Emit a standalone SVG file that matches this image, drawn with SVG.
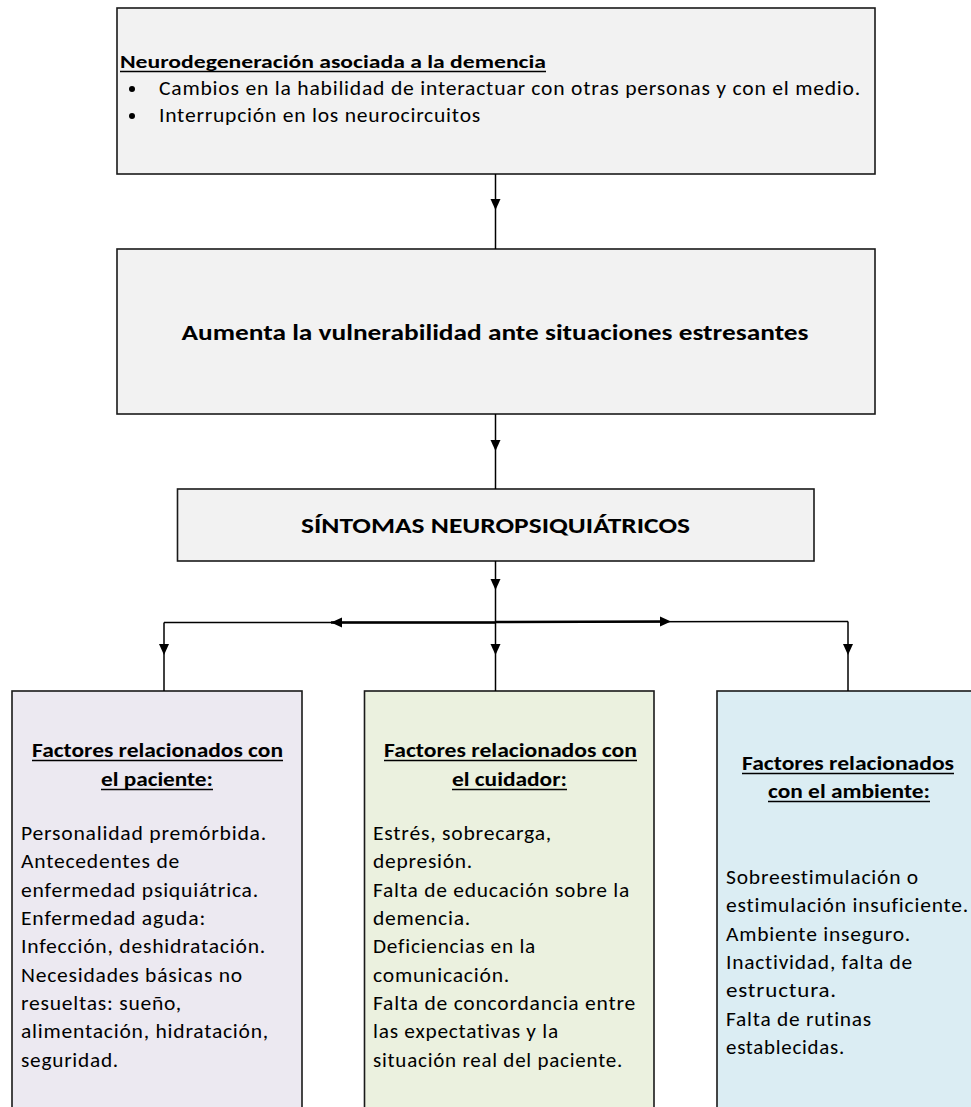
<svg xmlns="http://www.w3.org/2000/svg" width="971" height="1107" viewBox="0 0 971 1107">
<style>
.box{stroke:#1a1a1a;stroke-width:1.6}
.gray{fill:#f2f2f2}
.t{font-family:Carlito,Lato,"Liberation Sans",sans-serif;fill:#000}
.b{font-weight:bold}
.bd{font-size:19.5px;letter-spacing:0.7px}
.conn line{stroke:#000;stroke-width:1.5}
.ul{stroke:#000;stroke-width:1.3}
</style>
<rect width="971" height="1107" fill="#fff"/>
<g id="node-neurodegeneracion">
<rect class="box gray" x="117" y="8" width="758" height="166"/>
<text class="t b" x="120" y="68" font-size="19" textLength="426" lengthAdjust="spacingAndGlyphs">Neurodegeneración asociada a la demencia</text>
<line class="ul" x1="120" y1="71.5" x2="546" y2="71.5"/>
<circle cx="132" cy="89" r="3"/>
<text class="t bd" x="159" y="95" textLength="702" lengthAdjust="spacingAndGlyphs">Cambios en la habilidad de interactuar con otras personas y con el medio.</text>
<circle cx="132" cy="116" r="3"/>
<text class="t bd" x="159" y="122" textLength="322" lengthAdjust="spacingAndGlyphs">Interrupción en los neurocircuitos</text>
</g>
<g id="node-vulnerabilidad">
<rect class="box gray" x="117" y="249" width="758" height="165"/>
<text class="t b" x="495" y="340" font-size="23" text-anchor="middle" textLength="627" lengthAdjust="spacingAndGlyphs">Aumenta la vulnerabilidad ante situaciones estresantes</text>
</g>
<g id="node-sintomas">
<rect class="box gray" x="177.5" y="489" width="636.5" height="72"/>
<text class="t b" x="495.5" y="533" font-size="23" text-anchor="middle" textLength="389" lengthAdjust="spacingAndGlyphs">SÍNTOMAS NEUROPSIQUIÁTRICOS</text>
</g>
<g id="node-paciente">
<rect class="box" fill="#ece9f1" x="12" y="691" width="290" height="430"/>
<text class="t b" x="32" y="757" font-size="21" textLength="251" lengthAdjust="spacingAndGlyphs">Factores relacionados con</text>
<line class="ul" x1="32" y1="760.5" x2="283" y2="760.5"/>
<text class="t b" x="101" y="786" font-size="21" textLength="112" lengthAdjust="spacingAndGlyphs">el paciente:</text>
<line class="ul" x1="101" y1="789.5" x2="213" y2="789.5"/>
<text class="t bd" x="21" y="840" textLength="246" lengthAdjust="spacingAndGlyphs">Personalidad premórbida.</text>
<text class="t bd" x="21" y="868.3" textLength="159" lengthAdjust="spacingAndGlyphs">Antecedentes de</text>
<text class="t bd" x="21" y="896.7" textLength="238" lengthAdjust="spacingAndGlyphs">enfermedad psiquiátrica.</text>
<text class="t bd" x="21" y="925" textLength="185" lengthAdjust="spacingAndGlyphs">Enfermedad aguda:</text>
<text class="t bd" x="21" y="953.3" textLength="245" lengthAdjust="spacingAndGlyphs">Infección, deshidratación.</text>
<text class="t bd" x="21" y="981.7" textLength="222" lengthAdjust="spacingAndGlyphs">Necesidades básicas no</text>
<text class="t bd" x="21" y="1010" textLength="161" lengthAdjust="spacingAndGlyphs">resueltas: sueño,</text>
<text class="t bd" x="21" y="1038.3" textLength="248" lengthAdjust="spacingAndGlyphs">alimentación, hidratación,</text>
<text class="t bd" x="21" y="1066.7" textLength="98" lengthAdjust="spacingAndGlyphs">seguridad.</text>
</g>
<g id="node-cuidador">
<rect class="box" fill="#ebf1df" x="364.5" y="691" width="289.5" height="430"/>
<text class="t b" x="384" y="757" font-size="21" textLength="253" lengthAdjust="spacingAndGlyphs">Factores relacionados con</text>
<line class="ul" x1="384" y1="760.5" x2="637" y2="760.5"/>
<text class="t b" x="452" y="786" font-size="21" textLength="115" lengthAdjust="spacingAndGlyphs">el cuidador:</text>
<line class="ul" x1="452" y1="789.5" x2="567" y2="789.5"/>
<text class="t bd" x="373" y="840" textLength="179" lengthAdjust="spacingAndGlyphs">Estrés, sobrecarga,</text>
<text class="t bd" x="373" y="868.3" textLength="100" lengthAdjust="spacingAndGlyphs">depresión.</text>
<text class="t bd" x="373" y="896.7" textLength="257" lengthAdjust="spacingAndGlyphs">Falta de educación sobre la</text>
<text class="t bd" x="373" y="925" textLength="98" lengthAdjust="spacingAndGlyphs">demencia.</text>
<text class="t bd" x="373" y="953.3" textLength="163" lengthAdjust="spacingAndGlyphs">Deficiencias en la</text>
<text class="t bd" x="373" y="981.7" textLength="137" lengthAdjust="spacingAndGlyphs">comunicación.</text>
<text class="t bd" x="373" y="1010" textLength="263" lengthAdjust="spacingAndGlyphs">Falta de concordancia entre</text>
<text class="t bd" x="373" y="1038.3" textLength="186" lengthAdjust="spacingAndGlyphs">las expectativas y la</text>
<text class="t bd" x="373" y="1066.7" textLength="250" lengthAdjust="spacingAndGlyphs">situación real del paciente.</text>
</g>
<g id="node-ambiente">
<rect class="box" fill="#dbedf3" x="717" y="691" width="290" height="430"/>
<text class="t b" x="742" y="770" font-size="21" textLength="212" lengthAdjust="spacingAndGlyphs">Factores relacionados</text>
<line class="ul" x1="742" y1="773.5" x2="954" y2="773.5"/>
<text class="t b" x="768" y="798" font-size="21" textLength="162" lengthAdjust="spacingAndGlyphs">con el ambiente:</text>
<line class="ul" x1="768" y1="801.5" x2="930" y2="801.5"/>
<text class="t bd" x="726" y="884" textLength="193" lengthAdjust="spacingAndGlyphs">Sobreestimulación o</text>
<text class="t bd" x="726" y="912.3" textLength="243" lengthAdjust="spacingAndGlyphs">estimulación insuficiente.</text>
<text class="t bd" x="726" y="940.7" textLength="185" lengthAdjust="spacingAndGlyphs">Ambiente inseguro.</text>
<text class="t bd" x="726" y="969" textLength="187" lengthAdjust="spacingAndGlyphs">Inactividad, falta de</text>
<text class="t bd" x="726" y="997.3" textLength="111" lengthAdjust="spacingAndGlyphs">estructura.</text>
<text class="t bd" x="726" y="1025.7" textLength="146" lengthAdjust="spacingAndGlyphs">Falta de rutinas</text>
<text class="t bd" x="726" y="1054" textLength="119" lengthAdjust="spacingAndGlyphs">establecidas.</text>
</g>
<g id="connectors" class="conn">
<line x1="495.5" y1="174" x2="495.5" y2="249"/>
<polygon points="495.5,210 490.5,199 500.5,199"/>
<line x1="495.5" y1="414" x2="495.5" y2="489"/>
<polygon points="495.5,451 490.5,440 500.5,440"/>
<line x1="495.5" y1="561" x2="495.5" y2="691"/>
<polygon points="495.5,590 490.5,579 500.5,579"/>
<polygon points="495.5,655 490.5,644 500.5,644"/>
<line x1="164" y1="622.5" x2="495.5" y2="622.5" style="stroke-width:1.5"/>
<line x1="331" y1="622.5" x2="495.5" y2="622.5" style="stroke-width:2.5"/>
<line x1="495.5" y1="622" x2="848" y2="621.5" style="stroke-width:1.5"/>
<line x1="495.5" y1="622" x2="665" y2="621.5" style="stroke-width:2.5"/>
<polygon points="331,622.5 342,617.5 342,627.5"/>
<polygon points="671,621.5 660,616.5 660,626.5"/>
<line x1="164" y1="622.5" x2="164" y2="691"/>
<polygon points="164,655 159,644 169,644"/>
<line x1="848" y1="621.5" x2="848" y2="691"/>
<polygon points="848,655 843,644 853,644"/>
</g>
</svg>
